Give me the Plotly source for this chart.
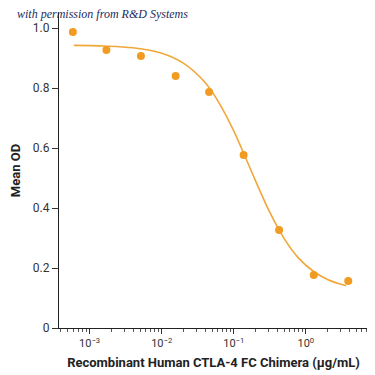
import plotly.graph_objects as go

# Measured data points (concentration in µg/mL, Mean OD)
conc = [0.000585, 0.00171, 0.00515, 0.0156, 0.0455, 0.137, 0.426, 1.29, 3.88]
mean_od = [0.987, 0.927, 0.907, 0.840, 0.787, 0.577, 0.327, 0.177, 0.157]

# Fitted curve
curve_x = [0.000603, 0.001585, 0.00398, 0.01, 0.01995, 0.0398, 0.0631, 0.1, 0.141,
           0.1995, 0.316, 0.501, 0.794, 1.259, 1.995, 3.63]
curve_y = [0.942, 0.940, 0.934, 0.916, 0.883, 0.819, 0.749, 0.657, 0.576,
           0.492, 0.386, 0.298, 0.233, 0.190, 0.162, 0.141]

tick_vals = [0.001, 0.01, 0.1, 1]
tick_text = ["10<sup>−3</sup>", "10<sup>−2</sup>", "10<sup>−1</sup>", "10<sup>0</sup>"]
y_vals = [0, 0.2, 0.4, 0.6, 0.8, 1.0]
y_text = ["0", "0.2", "0.4", "0.6", "0.8", "1.0"]

FONT = "Roboto, sans-serif"
ORANGE = "#f29b22"

fig = go.Figure()
fig.add_trace(go.Scatter(x=curve_x, y=curve_y, mode="lines",
                         line=dict(color="#f0a73a", width=1.6, shape="spline", smoothing=1),
                         hoverinfo="skip", showlegend=False))
fig.add_trace(go.Scatter(x=conc, y=mean_od, mode="markers",
                         marker=dict(color=ORANGE, size=8), showlegend=False))

fig.update_layout(
    width=367, height=367,
    margin=dict(l=47, r=7, t=5, b=47),
    paper_bgcolor="white", plot_bgcolor="white",
    font=dict(family=FONT, size=11, color="#333333"),
    xaxis=dict(type="log", range=[-3.425, 0.863],
               tickvals=tick_vals, ticktext=tick_text,
               ticks="outside", ticklen=5, tickcolor="#333333",
               showline=True, linecolor="#222222", linewidth=1.3,
               showgrid=False, zeroline=False,
               minor=dict(ticks="outside", ticklen=3, dtick="D1", tickcolor="#555555", showgrid=False),
               tickfont=dict(size=11),
               title=dict(text="<b>Recombinant Human CTLA-4 FC Chimera (µg/mL)</b>",
                          font=dict(size=13, color="#222222"), standoff=8)),
    yaxis=dict(range=[0, 1.05], tickvals=y_vals, ticktext=y_text,
               ticks="outside", ticklen=6, tickcolor="#333333",
               showline=True, linecolor="#222222", linewidth=1.3,
               showgrid=False, zeroline=False,
               tickfont=dict(size=12),
               title=dict(text="<b>Mean OD</b>", font=dict(size=13, color="#222222"), standoff=11)),
)

fig.add_annotation(text="with permission from R&D Systems", xref="paper", yref="paper",
                   x=-0.144, y=0.998, xanchor="left", yanchor="middle", showarrow=False,
                   font=dict(family="Liberation Serif, DejaVu Serif, serif", size=12,
                             color="#1c2a5e", style="italic"))

fig.write_html("out.html")
